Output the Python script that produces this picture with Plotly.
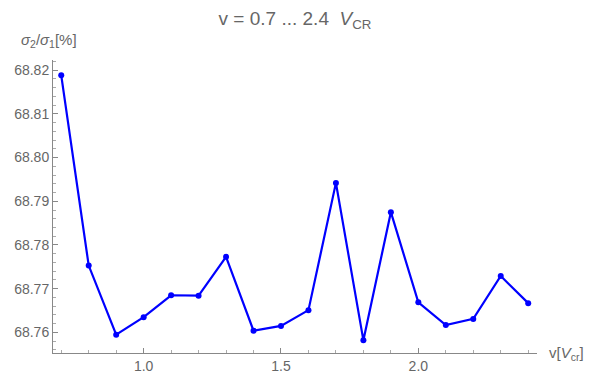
import plotly.graph_objects as go

v_values = [0.7, 0.8, 0.9, 1.0, 1.1, 1.2, 1.3, 1.4, 1.5, 1.6, 1.7, 1.8, 1.9, 2.0, 2.1, 2.2, 2.3, 2.4]
ratio_values = [68.8188, 68.7753, 68.7595, 68.7635, 68.7685, 68.7684, 68.7773, 68.7604, 68.7615,
                68.7651, 68.7942, 68.7582, 68.7875, 68.7669, 68.7617, 68.7631, 68.7729, 68.7667]
x_ticks = [1.0, 1.5, 2.0]
x_tick_labels = ["1.0", "1.5", "2.0"]
y_ticks = [68.76, 68.77, 68.78, 68.79, 68.80, 68.81, 68.82]
y_tick_labels = ["68.76", "68.77", "68.78", "68.79", "68.80", "68.81", "68.82"]

gray = "#666666"
font_family = "Liberation Sans, Arial, sans-serif"

fig = go.Figure()
fig.add_trace(go.Scatter(
    x=v_values, y=ratio_values, mode="lines+markers",
    line=dict(color="#0000FF", width=2.2),
    marker=dict(color="#0000FF", size=6),
    showlegend=False, cliponaxis=False,
))

fig.update_layout(
    width=590, height=375,
    margin=dict(l=53, r=53, t=60, b=22, autoexpand=False),
    paper_bgcolor="white", plot_bgcolor="white",
    title=dict(
        text="v = 0.7 ... 2.4  <i>V</i><sub>CR</sub>",
        x=0.5, xanchor="center", xref="paper", y=0.95, yanchor="middle",
        font=dict(family=font_family, size=19, color=gray),
    ),
    xaxis=dict(
        range=[0.67, 2.432], showgrid=False, zeroline=False, automargin=False,
        showline=True, linecolor="#888888", linewidth=1,
        tickmode="array", tickvals=x_ticks, ticktext=x_tick_labels,
        ticks="inside", ticklen=5, tickcolor="#888888",
        minor=dict(dtick=0.1, tick0=0.0, ticks="inside", ticklen=3, tickcolor="#aaaaaa"),
        tickfont=dict(family=font_family, size=14, color=gray),
    ),
    yaxis=dict(
        range=[68.7553, 68.8223], showgrid=False, zeroline=False, automargin=False,
        showline=True, linecolor="#888888", linewidth=1,
        tickmode="array", tickvals=y_ticks, ticktext=y_tick_labels,
        ticks="inside", ticklen=5, tickcolor="#888888",
        minor=dict(dtick=0.002, tick0=68.76, ticks="inside", ticklen=3, tickcolor="#aaaaaa"),
        tickfont=dict(family=font_family, size=14, color=gray),
    ),
    annotations=[
        dict(text="<i>σ</i><sub>2</sub>/<i>σ</i><sub>1</sub>[%]", xref="paper", yref="paper",
             x=-0.07, y=1.0, xanchor="left", yanchor="bottom", yshift=8, showarrow=False,
             font=dict(family=font_family, size=15, color=gray)),
        dict(text="v[<i>V</i><sub>cr</sub>]", xref="paper", yref="paper",
             x=(547 - 53) / 484, y=0.0, xanchor="left", yanchor="middle", showarrow=False,
             font=dict(family=font_family, size=15, color=gray)),
    ],
)

fig.write_html("out.html", config={"displayModeBar": False},
               post_script="document.body.style.margin='0';document.body.style.overflow='hidden';")
